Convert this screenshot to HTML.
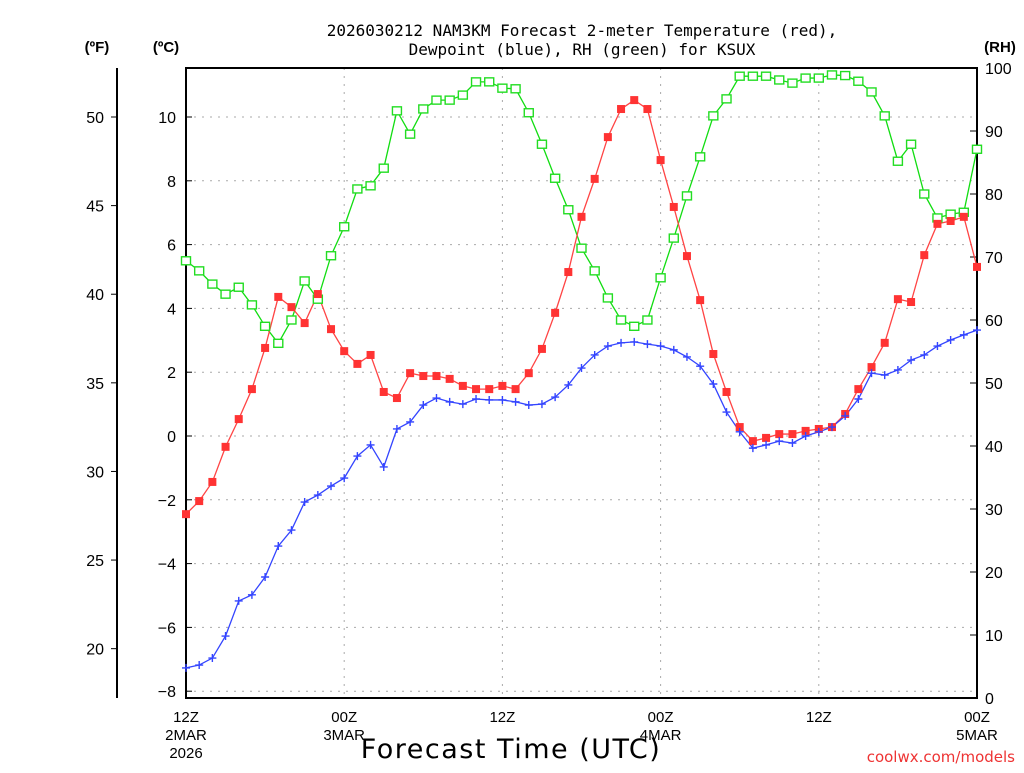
<!DOCTYPE html>
<html><head><meta charset="utf-8"><style>
body{margin:0;background:#fff;width:1024px;height:768px;overflow:hidden}
svg text{font-family:"Liberation Sans","DejaVu Sans",sans-serif;fill:#000}
</style></head><body>
<svg id="chart" width="1024" height="768" xmlns="http://www.w3.org/2000/svg">
<g id="grid"></g><g id="axes"></g><g id="series"></g>
<text x="582" y="36" text-anchor="middle" style="font-family:'DejaVu Sans Mono','Liberation Mono',monospace;font-size:16px">2026030212 NAM3KM Forecast 2-meter Temperature (red),</text>
<text x="582" y="55" text-anchor="middle" style="font-family:'DejaVu Sans Mono','Liberation Mono',monospace;font-size:16px">Dewpoint (blue), RH (green) for KSUX</text>
<text x="97" y="52" text-anchor="middle" font-weight="bold" font-size="15">(ºF)</text>
<text x="166" y="52" text-anchor="middle" font-weight="bold" font-size="15">(ºC)</text>
<text x="1000" y="52" text-anchor="middle" font-weight="bold" font-size="15">(RH)</text>
<text x="511" y="758" text-anchor="middle" font-size="27" letter-spacing="1.5" style="font-family:'DejaVu Sans',sans-serif">Forecast Time (UTC)</text>
<text x="1015" y="762" text-anchor="end" font-size="15" style="fill:#e33;font-family:'DejaVu Sans',sans-serif">coolwx.com/models</text>
</svg>
<script>
const temps=[-2.45,-2.04,-1.44,-0.34,0.53,1.47,2.76,4.36,4.04,3.54,4.45,3.35,2.66,2.26,2.54,1.38,1.19,1.97,1.88,1.88,1.79,1.57,1.47,1.47,1.57,1.47,1.97,2.73,3.86,5.14,6.87,8.06,9.37,10.25,10.53,10.25,8.65,7.18,5.64,4.26,2.57,1.38,0.28,-0.16,-0.06,0.06,0.06,0.16,0.22,0.28,0.69,1.47,2.16,2.92,4.29,4.2,5.67,6.65,6.74,6.87,5.3];
const dewpts=[-7.27,-7.18,-6.96,-6.27,-5.17,-4.98,-4.42,-3.45,-2.95,-2.07,-1.85,-1.57,-1.32,-0.63,-0.28,-0.97,0.22,0.44,0.97,1.19,1.07,1.0,1.16,1.13,1.13,1.07,0.97,1.0,1.22,1.6,2.13,2.54,2.82,2.92,2.95,2.88,2.82,2.7,2.48,2.19,1.63,0.75,0.13,-0.38,-0.28,-0.16,-0.22,0,0.13,0.28,0.63,1.16,1.97,1.91,2.07,2.38,2.54,2.82,3.01,3.17,3.32];
const rhs=[69.4,67.8,65.7,64.1,65.2,62.4,59.0,56.3,60.0,66.2,63.3,70.2,74.8,80.8,81.3,84.1,93.2,89.5,93.5,94.9,94.9,95.7,97.8,97.8,96.8,96.7,92.9,87.9,82.5,77.5,71.4,67.8,63.5,60.0,59.0,60.0,66.7,73.0,79.7,85.9,92.4,95.1,98.7,98.7,98.7,98.1,97.6,98.4,98.4,98.9,98.8,97.9,96.2,92.4,85.2,87.9,80.0,76.2,76.8,77.1,87.1];
const cTicks=[-8,-6,-4,-2,0,2,4,6,8,10];
const fTicks=[20,25,30,35,40,45,50];
const rhTicks=[0,10,20,30,40,50,60,70,80,90,100];
const xTickHours=[0,12,24,36,48,60];
const xLabels=[["12Z","2MAR","2026"],["00Z","3MAR"],["12Z"],["00Z","4MAR"],["12Z"],["00Z","5MAR"]];
const X0=186,X1=977,Y0=68,Y1=698;
const xs=h=>X0+(X1-X0)*h/60;
const yC=c=>436-c*31.9;
const yF=f=>yC((f-32)*5/9);
const yR=r=>Y1-(Y1-Y0)*r/100;
const NS="http://www.w3.org/2000/svg";
function mk(p,tag,at){const e=document.createElementNS(NS,tag);for(const k in at)e.setAttribute(k,at[k]);p.appendChild(e);return e;}
const grid=document.getElementById('grid'),axes=document.getElementById('axes'),ser=document.getElementById('series');
cTicks.forEach(c=>{
 const g=mk(grid,'line',{x1:X0,x2:X1,y1:yC(c),y2:yC(c),stroke:'#aaa','stroke-dasharray':'2,6'});
 
 mk(axes,'line',{x1:X0,x2:X0+6,y1:yC(c),y2:yC(c),stroke:'#000'});
 const t=mk(axes,'text',{x:X0-10,y:yC(c)+6,'text-anchor':'end','font-size':'16'});t.textContent=c<0?'\u2212'+(-c):c;
 
});
xTickHours.forEach((h,i)=>{
 if(h>0&&h<60){const g=mk(grid,'line',{x1:xs(h),x2:xs(h),y1:Y0,y2:Y1,stroke:'#aaa','stroke-dasharray':'2,6'});
 }
 xLabels[i].forEach((s,j)=>{const t=mk(axes,'text',{x:xs(h),y:722+j*18,'text-anchor':'middle','font-size':'15'});t.textContent=s;
 });
});
fTicks.forEach(f=>{
 mk(axes,'line',{x1:117,x2:111,y1:yF(f),y2:yF(f),stroke:'#000'});
 const t=mk(axes,'text',{x:104,y:yF(f)+6,'text-anchor':'end','font-size':'16'});t.textContent=f;
 
});
rhTicks.forEach(r=>{
 mk(axes,'line',{x1:X1,x2:X1-7,y1:yR(r),y2:yR(r),stroke:'#000'});
 const t=mk(axes,'text',{x:985,y:yR(r)+6,'font-size':'16'});t.textContent=r;
 
});
mk(axes,'rect',{x:X0,y:Y0,width:X1-X0,height:Y1-Y0,fill:'none',stroke:'#000','stroke-width':2});
mk(axes,'line',{x1:117,x2:117,y1:Y0,y2:Y1,stroke:'#000','stroke-width':2});
function line(vals,yf,col,name){
 const p=mk(ser,'polyline',{points:vals.map((v,i)=>xs(i)+','+yf(v)).join(' '),fill:'none',stroke:col,'stroke-width':1.3});
 
}
line(rhs,yR,'#1d1','rh-line');line(temps,yC,'#f44','temperature-line');line(dewpts,yC,'#34f','dewpoint-line');
rhs.forEach((v,i)=>{const m=mk(ser,'rect',{x:xs(i)-4.5,y:yR(v)-4,width:9,height:8,fill:'#fff',stroke:'#2d2','stroke-width':1.4});
 });
temps.forEach((v,i)=>{const m=mk(ser,'rect',{x:xs(i)-4,y:yC(v)-4,width:8,height:8,fill:'#f33'});
 });
dewpts.forEach((v,i)=>{const x=xs(i),y=yC(v);const m=mk(ser,'path',{d:`M${x-4},${y}H${x+4}M${x},${y-4}V${y+4}`,stroke:'#34f','stroke-width':1.4});
 });
</script>
</body></html>
